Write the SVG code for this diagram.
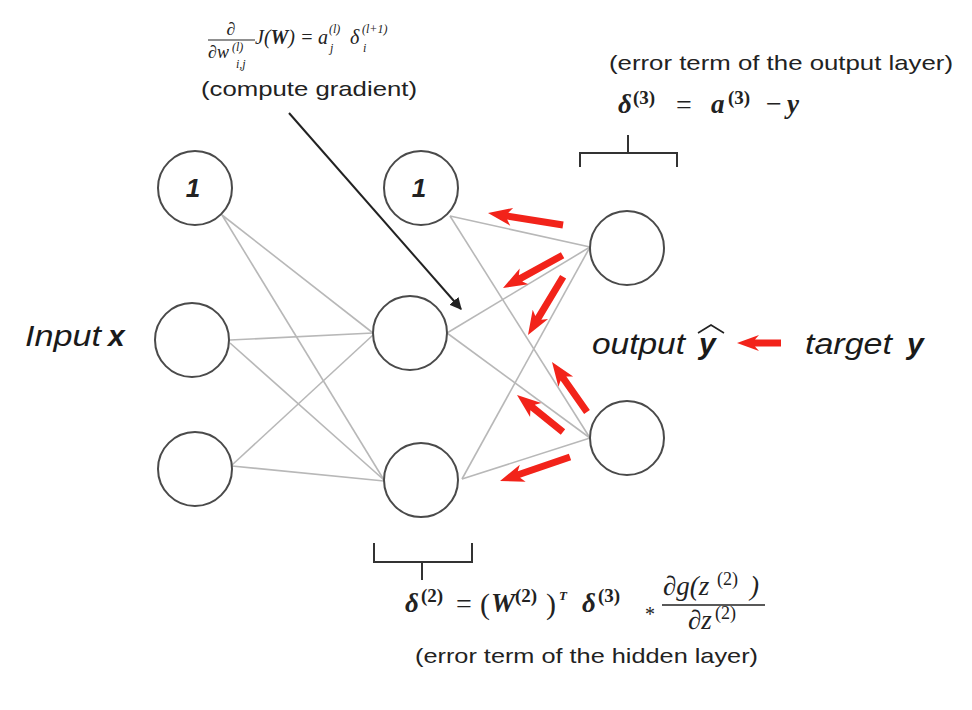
<svg xmlns="http://www.w3.org/2000/svg" width="972" height="710" viewBox="0 0 972 710">
<defs>
<style>
.node{fill:#fff;stroke:#4a4a4a;stroke-width:2}
.edge{stroke:#b8b8b8;stroke-width:1.6;fill:none}
.red{fill:#f2231a}
.sans{font-family:"Liberation Sans",Arial,sans-serif;fill:#222}
.lbl{font-family:"Liberation Sans",Arial,sans-serif;font-style:italic;fill:#1a1a1a}
.math{font-family:"Liberation Serif","DejaVu Serif",serif;font-style:italic;fill:#222}
.mb{font-family:"Liberation Serif","DejaVu Serif",serif;font-style:italic;font-weight:bold;fill:#222}
.mr{font-family:"Liberation Serif","DejaVu Serif",serif;fill:#222}
.bias{font-family:"Liberation Sans",Arial,sans-serif;font-style:italic;font-weight:bold;font-size:26px;fill:#222;text-anchor:middle}
.brk{stroke:#333;stroke-width:2;fill:none}
</style>
<marker id="ah" viewBox="0 0 10 10" refX="9" refY="5" markerWidth="6" markerHeight="6" orient="auto" markerUnits="strokeWidth">
<path d="M0,0 L10,5 L0,10 Z" fill="#222"/>
</marker>
</defs>
<rect width="972" height="710" fill="#fff"/>

<g id="connectors">
<line class="edge" x1="222" y1="215" x2="373" y2="333"/>
<line class="edge" x1="222" y1="215" x2="384" y2="480"/>
<line class="edge" x1="230" y1="340" x2="373" y2="333"/>
<line class="edge" x1="230" y1="343" x2="384" y2="480"/>
<line class="edge" x1="232" y1="465" x2="373" y2="335"/>
<line class="edge" x1="232" y1="466" x2="384" y2="481"/>
<line class="edge" x1="450" y1="216" x2="590" y2="247"/>
<line class="edge" x1="450" y1="216" x2="590" y2="438"/>
<line class="edge" x1="447" y1="333" x2="590" y2="247"/>
<line class="edge" x1="447" y1="333" x2="590" y2="438"/>
<line class="edge" x1="462" y1="479" x2="590" y2="247"/>
<line class="edge" x1="462" y1="479" x2="590" y2="438"/>
<line x1="289" y1="113" x2="461" y2="309" stroke="#222" stroke-width="2" marker-end="url(#ah)"/>
</g>

<g id="backprop-arrows">
<path class="red" transform="translate(488,213) rotate(189.1)" d="M0,0 L-24,-9 L-20,-3.5 L-76,-3.5 L-76,3.5 L-20,3.5 L-24,9 Z"/>
<path class="red" transform="translate(503,288) rotate(151.2)" d="M0,0 L-24,-9 L-20,-3.5 L-68,-3.5 L-68,3.5 L-20,3.5 L-24,9 Z"/>
<path class="red" transform="translate(528,335) rotate(121.1)" d="M0,0 L-24,-9 L-20,-3.5 L-68,-3.5 L-68,3.5 L-20,3.5 L-24,9 Z"/>
<path class="red" transform="translate(552,362) rotate(235)" d="M0,0 L-24,-9 L-20,-3.5 L-61,-3.5 L-61,3.5 L-20,3.5 L-24,9 Z"/>
<path class="red" transform="translate(517,395) rotate(218.8)" d="M0,0 L-24,-9 L-20,-3.5 L-59,-3.5 L-59,3.5 L-20,3.5 L-24,9 Z"/>
<path class="red" transform="translate(500,481) rotate(161.1)" d="M0,0 L-24,-9 L-20,-3.5 L-74,-3.5 L-74,3.5 L-20,3.5 L-24,9 Z"/>
<path class="red" transform="translate(737,343) rotate(180)" d="M0,0 L-22,-8 L-18,-3.5 L-44,-3.5 L-44,3.5 L-18,3.5 L-22,8 Z"/>
</g>

<g id="input-bias"><circle class="node" cx="195" cy="188" r="37"/><text class="bias" x="193" y="197">1</text></g>
<g id="input-1"><circle class="node" cx="192" cy="340" r="37"/></g>
<g id="input-2"><circle class="node" cx="195" cy="469" r="37"/></g>
<g id="hidden-bias"><circle class="node" cx="421" cy="188" r="37"/><text class="bias" x="419" y="197">1</text></g>
<g id="hidden-1"><circle class="node" cx="410" cy="333" r="37"/></g>
<g id="hidden-2"><circle class="node" cx="421" cy="480" r="37"/></g>
<g id="output-1"><circle class="node" cx="627" cy="248" r="37"/></g>
<g id="output-2"><circle class="node" cx="627" cy="438" r="37"/></g>

<g id="brackets">
<path class="brk" d="M580,167 L580,153 L677,153 L677,167 M628,153 L628,135"/>
<path class="brk" d="M374,543 L374,562 L472,562 L472,543 M422,562 L422,580"/>
</g>

<g id="gradient-label">
<text class="math" font-size="18" x="231" y="35" text-anchor="middle">∂</text>
<line x1="208" y1="40" x2="255" y2="40" stroke="#222" stroke-width="1.2"/>
<text class="math" font-size="18" x="208" y="58">∂w</text>
<text class="math" font-size="12" x="232" y="51">(l)</text>
<text class="math" font-size="12" x="236" y="68">i,j</text>
<text class="math" font-size="20" x="255" y="44">J(<tspan font-weight="bold">W</tspan>) =</text>
<text class="math" font-size="20" x="318" y="44">a</text>
<text class="math" font-size="12" x="329" y="33">(l)</text>
<text class="math" font-size="12" x="330" y="52">j</text>
<text class="math" font-size="20" x="350" y="44">δ</text>
<text class="math" font-size="12" x="362" y="33">(l+1)</text>
<text class="math" font-size="12" x="363" y="52">i</text>
<text class="sans" font-size="21" x="201" y="96" textLength="216" lengthAdjust="spacingAndGlyphs">(compute gradient)</text>
</g>

<g id="output-error-label">
<text class="sans" font-size="21" x="609" y="70" textLength="344" lengthAdjust="spacingAndGlyphs">(error term of the output layer)</text>
<text class="mb" font-size="27" x="618" y="113">δ</text>
<text class="mr" font-size="19" font-weight="bold" x="633" y="104">(3)</text>
<text class="mr" font-size="28" x="676" y="114">=</text>
<text class="mb" font-size="27" x="711" y="113">a</text>
<text class="mr" font-size="19" font-weight="bold" x="728" y="104">(3)</text>
<text class="mr" font-size="28" x="766" y="113">−</text>
<text class="mb" font-size="27" x="787" y="113">y</text>
</g>

<g id="hidden-error-label">
<text class="mb" font-size="27" x="405" y="612">δ</text>
<text class="mr" font-size="19" font-weight="bold" x="421" y="602">(2)</text>
<text class="mr" font-size="28" x="456" y="613">=</text>
<text class="mr" font-size="30" x="480" y="614">(</text>
<text class="mb" font-size="27" x="491" y="612">W</text>
<text class="mr" font-size="19" font-weight="bold" x="515" y="602">(2)</text>
<text class="mr" font-size="30" x="546" y="614">)</text>
<text class="mb" font-size="13" x="559" y="600">T</text>
<text class="mb" font-size="27" x="582" y="612">δ</text>
<text class="mr" font-size="19" font-weight="bold" x="598" y="602">(3)</text>
<text class="mr" font-size="20" x="645" y="621">*</text>
<text class="math" font-size="27" x="663" y="595">∂g(z</text>
<text class="mr" font-size="18" x="717" y="585">(2)</text>
<text class="math" font-size="27" x="750" y="595">)</text>
<line x1="662" y1="605" x2="765" y2="605" stroke="#222" stroke-width="1.5"/>
<text class="math" font-size="27" x="688" y="629">∂z</text>
<text class="mr" font-size="18" x="715" y="619">(2)</text>
<text class="sans" font-size="21" x="415" y="663" textLength="343" lengthAdjust="spacingAndGlyphs">(error term of the hidden layer)</text>
</g>

<g id="input-label">
<text class="lbl" font-size="30" x="25" y="346" textLength="76" lengthAdjust="spacingAndGlyphs">Input</text>
<text class="lbl" font-size="30" font-weight="bold" x="108" y="346">x</text>
</g>

<g id="output-label">
<text class="lbl" font-size="30" x="592" y="354" textLength="93" lengthAdjust="spacingAndGlyphs">output</text>
<text class="lbl" font-size="30" font-weight="bold" x="699" y="354">y</text>
<path d="M698,333 L711,325 L724,333" stroke="#222" stroke-width="1.6" fill="none"/>
<text class="lbl" font-size="30" x="805" y="354" textLength="87" lengthAdjust="spacingAndGlyphs">target</text>
<text class="lbl" font-size="30" font-weight="bold" x="907" y="354">y</text>
</g>
</svg>
